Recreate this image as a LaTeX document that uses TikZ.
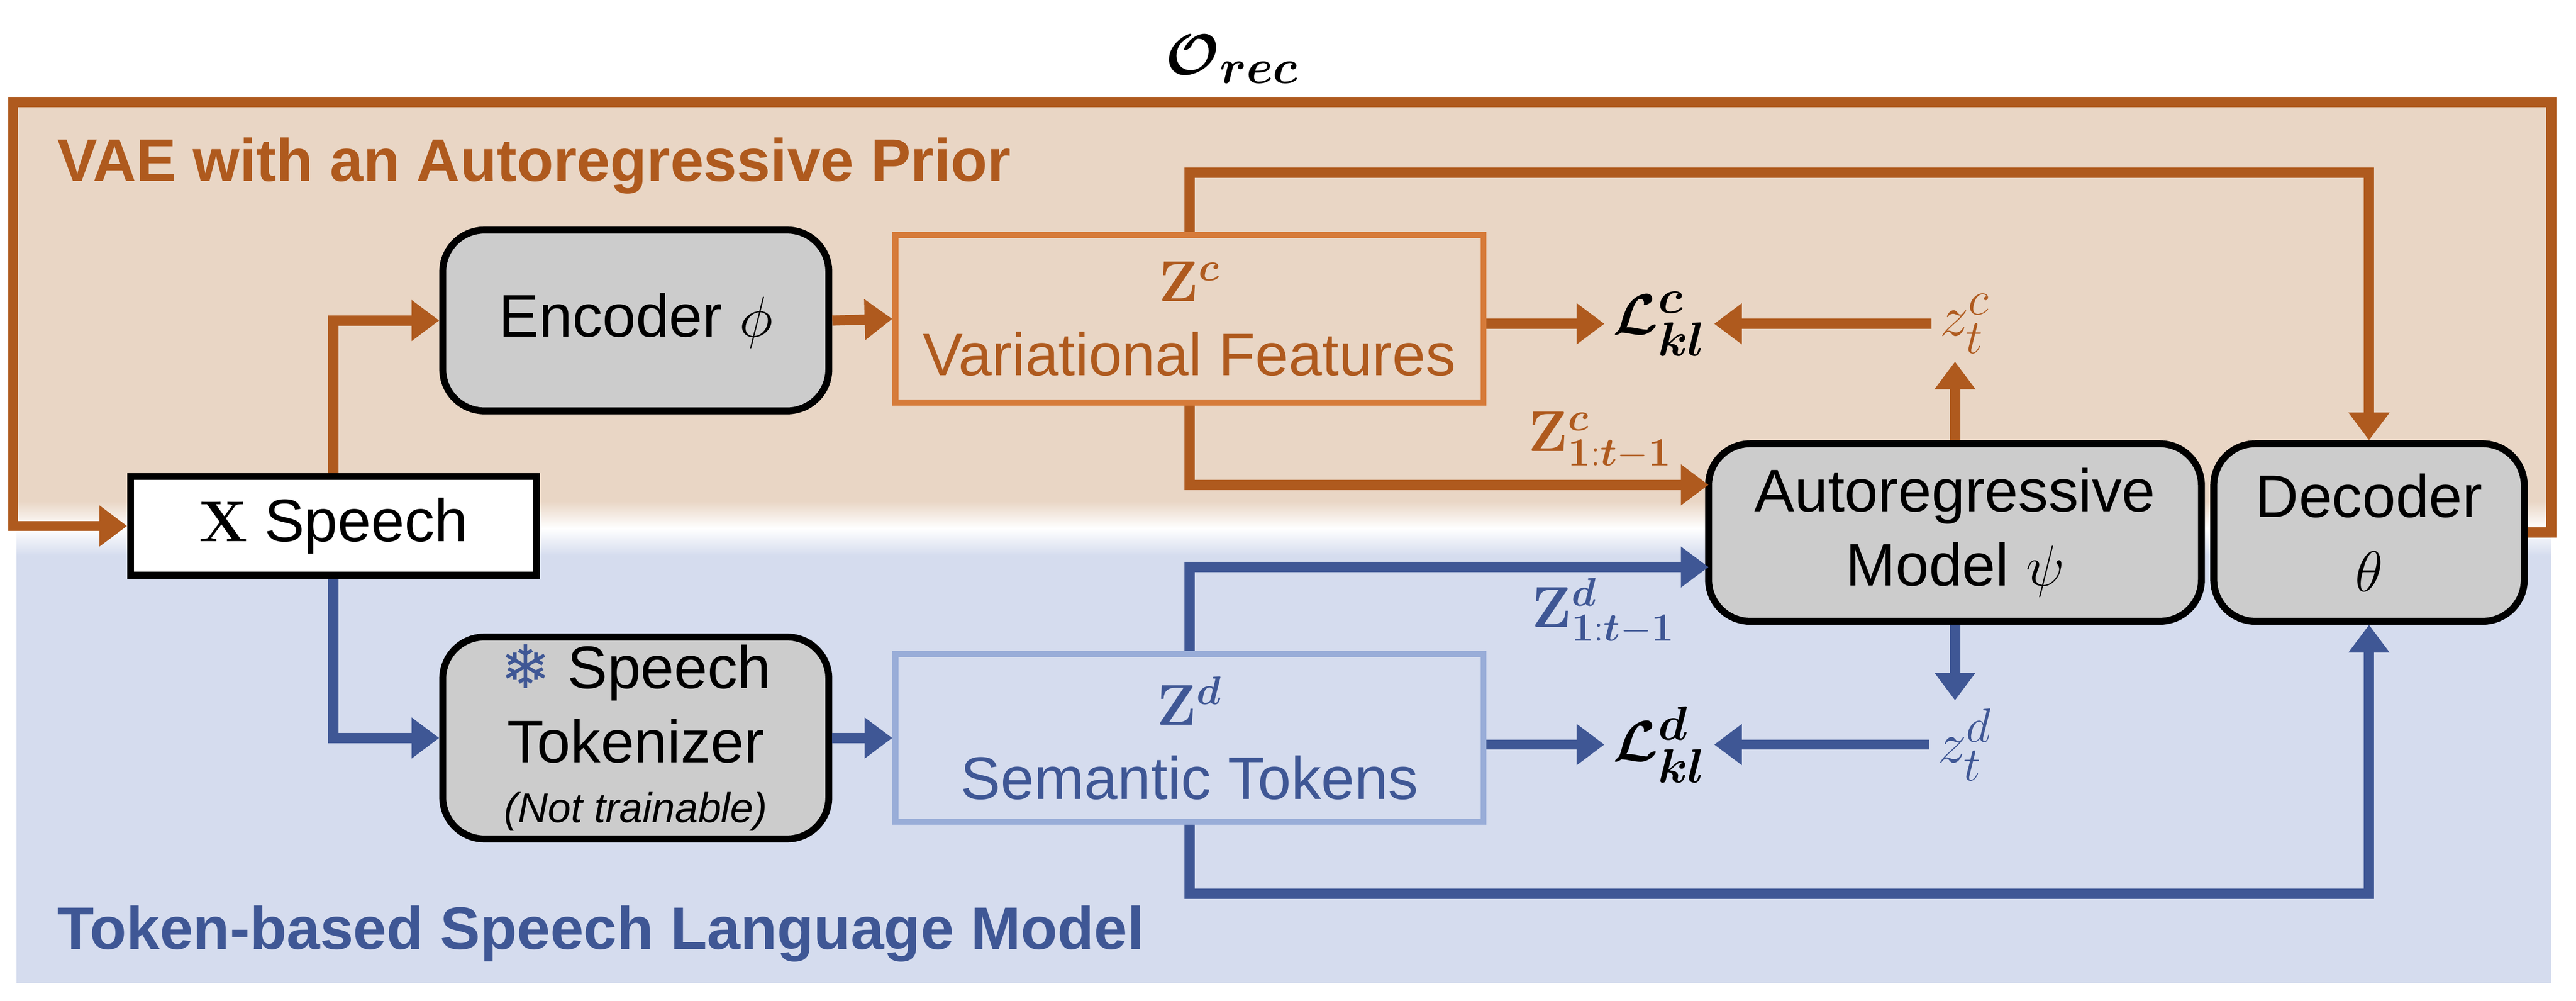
\documentclass[tikz,border=0pt]{standalone}
\usepackage[no-math]{fontspec}
\setmainfont{Liberation Sans}
\newfontfamily\snowfont{DejaVu Sans}
\usepackage{amsmath}
\usepackage{bm}
\usetikzlibrary{arrows.meta}
\definecolor{vaeorange}{RGB}{175,90,30}
\definecolor{vaelight}{RGB}{214,123,58}
\definecolor{vaebg}{RGB}{233,214,197}
\definecolor{lmblue}{RGB}{63,87,149}
\definecolor{lmlight}{RGB}{153,173,216}
\definecolor{lmbg}{RGB}{213,220,238}
\definecolor{boxgray}{RGB}{204,204,204}
\tikzset{
  block/.style={draw=black, line width=3pt, fill=boxgray, rounded corners=18pt,
    align=center, font=\fontsize{26}{32}\selectfont},
  feat/.style={draw, line width=2.6pt, align=center, font=\fontsize{26}{32}\selectfont},
  flow/.style={line width=4.4pt, -{Triangle[length=12pt,width=17pt]}},
}
\begin{document}
\begin{tikzpicture}[x=0.025cm,y=-0.025cm]
\useasboundingbox (0,0) rectangle (1568,609);
% backgrounds
\fill [vaebg] (10,62) rectangle (1553,305);
\shade [top color=vaebg, bottom color=lmbg, middle color=white] (10,305) rectangle (1553,338);
\fill [lmbg] (10,338) rectangle (1553,598);
\node [anchor=west, text=vaeorange, font=\fontsize{26}{32}\selectfont\bfseries] (vaetitle) at (30,101) {VAE with an Autoregressive Prior};
\node [anchor=west, text=lmblue, font=\fontsize{26}{32}\selectfont\bfseries] (lmtitle) at (30,568) {Token-based Speech Language Model};
% blocks
\node [draw, line width=3pt, fill=white, minimum width=247*0.025cm, minimum height=60*0.025cm,
  font=\fontsize{26}{32}\selectfont] (speech) at (203,320) {$\mathbf{X}$ Speech};
\node [block, minimum width=235*0.025cm, minimum height=110*0.025cm] (enc) at (387,195) {Encoder $\phi$};
\node [block, minimum width=235*0.025cm, minimum height=112*0.025cm] (tok) at (387,449)
  {{\snowfont\textcolor{lmblue}{❄}} Speech\\Tokenizer\\[-6pt]{\fontsize{18}{20}\selectfont\itshape(Not trainable)}};
\node [feat, draw=vaelight, text=vaeorange, minimum width=358*0.025cm, minimum height=102*0.025cm] (zc) at (724,194)
  {$\mathbf{Z}^{\bm{c}}$\\Variational Features};
\node [feat, draw=lmlight, text=lmblue, minimum width=358*0.025cm, minimum height=102*0.025cm] (zd) at (724,449)
  {$\mathbf{Z}^{\bm{d}}$\\Semantic Tokens};
\node [block, minimum width=300*0.025cm, minimum height=108*0.025cm] (ar) at (1190,324) {Autoregressive\\Model $\psi$};
\node [block, minimum width=189*0.025cm, minimum height=108*0.025cm] (dec) at (1442,324) {Decoder\\$\theta$};
% losses and targets
\node [font=\fontsize{28}{32}\selectfont] (lc) at (1010,197) {$\bm{\mathcal{L}}^{\bm{c}}_{\bm{kl}}$};
\node [font=\fontsize{28}{32}\selectfont, text=vaeorange] (ztc) at (1196,197) {$z^c_t$};
\node [font=\fontsize{28}{32}\selectfont] (ld) at (1010,453) {$\bm{\mathcal{L}}^{\bm{d}}_{\bm{kl}}$};
\node [font=\fontsize{28}{32}\selectfont, text=lmblue] (ztd) at (1196,453) {$z^d_t$};
\node [font=\fontsize{26}{30}\selectfont, text=vaeorange] (zcpast) at (974,268) {$\mathbf{Z}^{\bm{c}}_{\mathbf{1:}\bm{t}\mathbf{-1}}$};
\node [font=\fontsize{26}{30}\selectfont, text=lmblue] (zdpast) at (976,372) {$\mathbf{Z}^{\bm{d}}_{\mathbf{1:}\bm{t}\mathbf{-1}}$};
\node [font=\fontsize{28}{30}\selectfont] (orec) at (750,36) {$\bm{\mathcal{O}_{rec}}$};
% connectors
\coordinate (loopr) at (1553,324);
\coordinate (loopl) at (8,320);
\coordinate (arin1) at (1040,295);
\coordinate (arin2) at (1040,345);
\draw [flow, vaeorange] (dec.east) -- (loopr) -- (1553,62) -- (8,62) -- (loopl) -- (speech.west);
\draw [flow, vaeorange] (speech.north) |- (enc.west);
\draw [flow, vaeorange] (enc.east) -- (zc.west);
\draw [flow, vaeorange] (zc.north) -- ++(0,-36) -| (dec.north);
\draw [flow, vaeorange] (zc.south) |- (arin1);
\draw [flow, vaeorange] (zc.east |- lc.west) -- (lc.west);
\draw [flow, vaeorange] (ztc.west) -- (lc.east);
\draw [flow, vaeorange] (ar.north) -- (ar.north |- ztc.south);
\draw [flow, lmblue] (speech.south) |- (tok.west);
\draw [flow, lmblue] (tok.east) -- (zd.west);
\draw [flow, lmblue] (zd.north) |- (arin2);
\draw [flow, lmblue] (zd.south) -- ++(0,42) -| (dec.south);
\draw [flow, lmblue] (zd.east |- ld.west) -- (ld.west);
\draw [flow, lmblue] (ztd.west) -- (ld.east);
\draw [flow, lmblue] (ar.south) -- (ar.south |- ztd.north);
\end{tikzpicture}
\end{document}
